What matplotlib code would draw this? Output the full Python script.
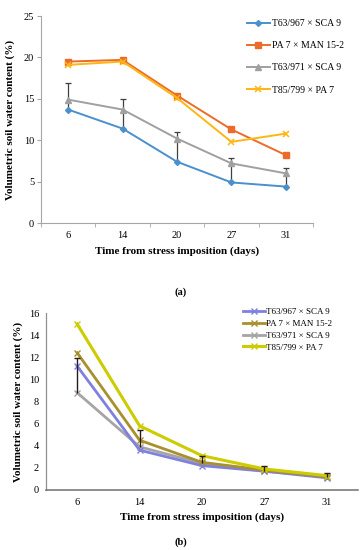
import matplotlib
matplotlib.use('Agg')
import matplotlib.pyplot as plt
import numpy as np

plt.rcParams['font.family'] = ['Liberation Serif', 'DejaVu Serif']

days = ['6', '14', '20', '27', '31']
names = ['T63/967 × SCA 9', 'PA 7 × MAN 15-2', 'T63/971 × SCA 9', 'T85/799 × PA 7']

# (a)
a_t63_967 = [13.7, 11.4, 7.4, 4.9, 4.4]
a_pa7 = [19.5, 19.7, 15.4, 11.3, 8.2]
a_t63_971 = [14.9, 13.7, 10.2, 7.2, 6.0]
a_t85 = [19.1, 19.5, 15.1, 9.8, 10.8]
a_err_top = [16.9, 15.0, 11.0, 7.9, 6.7]

# (b)
b_t63_967 = [11.2, 3.6, 2.2, 1.7, 1.1]
b_pa7 = [12.4, 4.5, 2.5, 1.8, 1.2]
b_t63_971 = [8.8, 3.9, 2.4, 1.7, 1.2]
b_t85 = [15.0, 5.8, 3.1, 1.9, 1.3]
b_err_top = [11.9, 5.4, 3.1, 2.15, 1.5]

x = np.arange(len(days))
axcol = '#a6a6a6'

fig = plt.figure(figsize=(3.62, 5.5), dpi=100)

#==============================================================================
# (a)
#==============================================================================
ax1 = fig.add_axes([0.1133, 0.5945, 0.7514, 0.3764])
# upper-only error bars
ax1.vlines(x, a_t63_967, a_err_top, color='#404040', lw=0.9, zorder=1)
ax1.plot(x, a_err_top, ls='none', marker='_', ms=4, mew=0.9, color='#404040', zorder=1)
ax1.plot(x, a_t63_967, color='#4a90cc', marker='D', ms=3, lw=1.4, label=names[0], zorder=3)
ax1.plot(x, a_pa7, color='#ed6b2a', marker='s', ms=5, lw=1.4, label=names[1], zorder=3)
ax1.plot(x, a_t63_971, color='#a0a0a0', marker='^', ms=4, lw=1.4, label=names[2], zorder=2)
ax1.plot(x, a_t85, color='#ffb612', marker='x', ms=5, mew=1.1, lw=1.4, label=names[3], zorder=3)
ax1.set_xlim(-0.5, 4.5)
ax1.set_ylim(0, 25)
ax1.set_yticks([0, 5, 10, 15, 20, 25])
ax1.set_xticks(x)
ax1.set_xticklabels(days)
ax1.set_xticks(np.arange(-0.5, 5, 1), minor=True)
ax1.tick_params(axis='x', which='major', length=0, labelsize=7.5, pad=6)
ax1.tick_params(axis='x', which='minor', length=3, color=axcol, direction='out')
ax1.tick_params(axis='y', length=3, color=axcol, labelsize=7.5, pad=2)
for s in ['top', 'right']:
    ax1.spines[s].set_visible(False)
for s in ['left', 'bottom']:
    ax1.spines[s].set_color(axcol)
    ax1.spines[s].set_linewidth(0.8)
ax1.set_xlabel('Time from stress imposition (days)', fontsize=8, fontweight='bold', labelpad=4)
ax1.set_ylabel('Volumetric soil water content (%)', fontsize=8, fontweight='bold', labelpad=6)
ax1.legend(loc='upper left', bbox_to_anchor=(0.683, 0.965), bbox_transform=fig.transFigure,
           frameon=False, fontsize=7, labelspacing=1.35, handlelength=2.3,
           handletextpad=0.2, borderaxespad=0, borderpad=0)
fig.text(0.5, 1 - 292 / 550, '(a)', ha='center', va='center', fontsize=7.5, fontweight='bold')

#==============================================================================
# (b)
#==============================================================================
ax2 = fig.add_axes([0.127, 0.1091, 0.862, 0.3218])
ax2.vlines(x, b_t63_971, b_err_top, color='#2a1a1a', lw=1.0, zorder=5)
ax2.plot(x, b_err_top, ls='none', marker='_', ms=4, mew=1.0, color='#2a1a1a', zorder=5)
ax2.plot(x, b_t63_967, color='#8080e0', marker='x', ms=4, lw=2, label=names[0], zorder=3)
ax2.plot(x, b_pa7, color='#a8902c', marker='x', ms=4, lw=2, label=names[1], zorder=3)
ax2.plot(x, b_t63_971, color='#a5a5a5', marker='x', ms=4, lw=2, label=names[2], zorder=2)
ax2.plot(x, b_t85, color='#cccc00', marker='x', ms=4, lw=2.2, label=names[3], zorder=4)
ax2.set_xlim(-0.5, 4.5)
ax2.set_ylim(0, 16)
ax2.set_yticks(np.arange(0, 17, 2))
ax2.set_xticks(x)
ax2.set_xticklabels(days)
ax2.tick_params(axis='x', length=0, labelsize=7.5, pad=6)
ax2.tick_params(axis='y', length=0, labelsize=7.5, pad=5)
for s in ['top', 'right']:
    ax2.spines[s].set_visible(False)
ax2.spines['left'].set_color('#909090')
ax2.spines['bottom'].set_color('#707070')
ax2.spines['left'].set_linewidth(0.9)
ax2.spines['bottom'].set_linewidth(1.1)
ax2.set_xlabel('Time from stress imposition (days)', fontsize=8, fontweight='bold', labelpad=4)
ax2.set_ylabel('Volumetric soil water content (%)', fontsize=8, fontweight='bold', labelpad=4)
ax2.legend(loc='upper left', bbox_to_anchor=(0.672, 0.44), bbox_transform=fig.transFigure,
           frameon=False, fontsize=6.5, labelspacing=0.38, handlelength=2.4,
           handletextpad=0.1, borderaxespad=0, borderpad=0)
fig.text(0.5, 1 - 542 / 550, '(b)', ha='center', va='center', fontsize=7.5, fontweight='bold')

fig.savefig('out.png', dpi=100)
